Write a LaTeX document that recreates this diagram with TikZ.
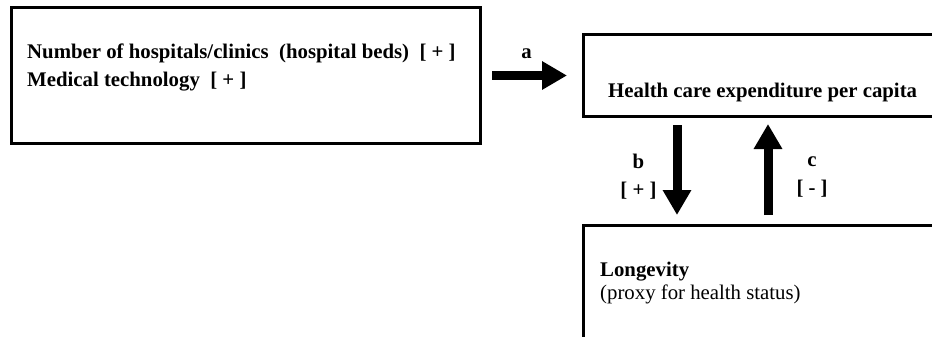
\documentclass[tikz,border=0pt]{standalone}
\usepackage{fontspec}
\setmainfont{Liberation Serif}
\usetikzlibrary{positioning,arrows.meta}

\begin{document}
\begin{tikzpicture}[node distance=1.6cm]
    % Define styles
    \tikzstyle{box} = [rectangle, draw, line width=3pt, inner sep=0pt, outer sep=0pt]
    \tikzstyle{box_text} = [font=\bfseries\fontsize{20.8}{28}\selectfont, inner sep=0pt, align=left]
    \tikzstyle{arrow_label} = [font=\bfseries\fontsize{20.8}{28}\selectfont, inner sep=0pt, align=center]
    \tikzstyle{line} = [draw, line width=9pt, -{Triangle[length=25pt,width=27pt]}]

    % Page size (boxes on the right run off the page)
    \useasboundingbox (0,0) rectangle (932pt,-337pt);
    \clip (0,0) rectangle (932pt,-337pt);

    % Boxes
    \node [box, minimum width=469pt, minimum height=135pt] (factors) at (245.5pt,-75.5pt) {};
    \node [box, minimum width=420pt, minimum height=81pt, right of=factors, node distance=547.5pt] (hce) {};
    \node [box, minimum width=420pt, minimum height=160pt, below of=hce, node distance=229.5pt] (lon) {};

    % Texts
    \node [box_text, below right=36pt and 16pt of factors.north west] (factors_text) {Number of hospitals/clinics\ \ (hospital beds)\ \ [ + ]\\Medical technology\ \ [ + ]};
    \node [box_text, below right=48pt and 25pt of hce.north west] (hce_text) {Health care expenditure per capita};
    \node [box_text, below right=37pt and 17pt of lon.north west] (lon_text) {Longevity\\[-5pt]{\mdseries (proxy for health status)}};

    % Lines
    \path [line, shorten <=12pt, shorten >=16pt] (factors) -- (hce)
        node [arrow_label, midway, above=12pt, xshift=-5pt] (label_a) {a};
    \path [line, shorten <=9pt, shorten >=10pt] ([xshift=94pt]hce.south west) -- ([xshift=94pt]lon.north west)
        node [arrow_label, midway, left=16pt, yshift=-6pt] (label_b) {b\\{[ + ]}};
    \path [line, shorten <=10pt, shorten >=8pt] ([xshift=185pt]lon.north west) -- ([xshift=185pt]hce.south west)
        node [arrow_label, midway, right=24pt, yshift=-6pt] (label_c) {c\\{[ - ]}};
\end{tikzpicture}
\end{document}
